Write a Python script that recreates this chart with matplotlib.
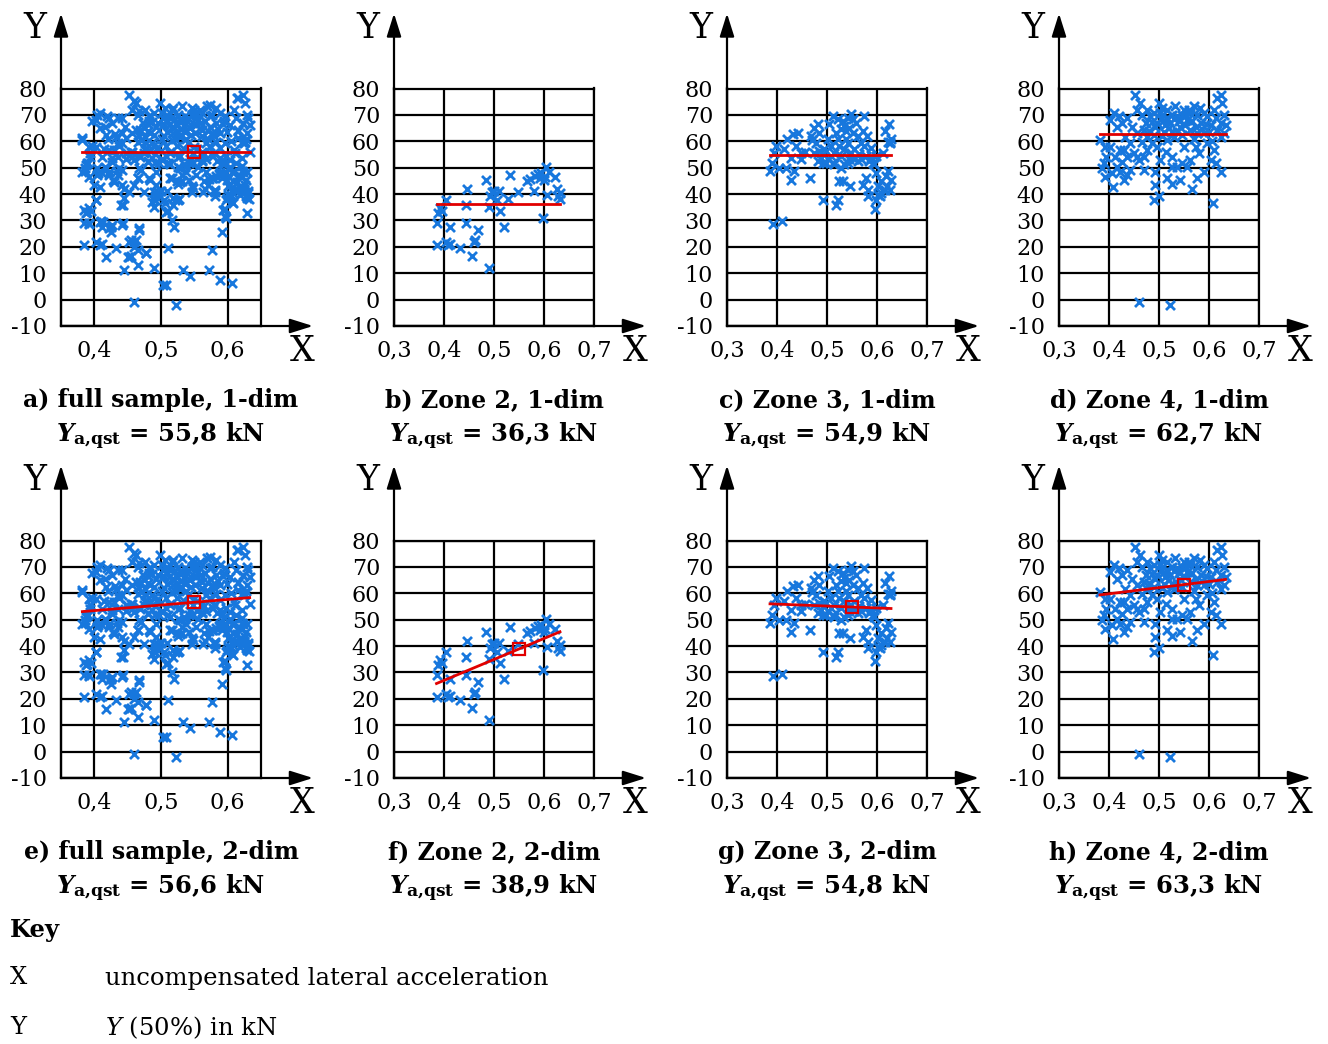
import numpy as np
import matplotlib
matplotlib.use("Agg")
import matplotlib.pyplot as plt

plt.rcParams["font.family"] = "DejaVu Serif"
plt.rcParams["mathtext.fontset"] = "dejavuserif"
plt.rcParams["axes.unicode_minus"] = False

# points: (uncompensated lateral acceleration, Y(50%) in kN)
zone2 = np.array([
    [0.385, 20.7], [0.385, 29.2], [0.388, 32.7], [0.392, 34.6], [0.395, 33.4],
    [0.403, 37.8], [0.403, 22.0], [0.408, 20.7], [0.411, 21.1], [0.411, 27.4],
    [0.432, 19.5], [0.443, 29.2], [0.443, 35.9], [0.445, 42.0], [0.455, 16.6],
    [0.459, 21.7], [0.462, 22.6], [0.467, 26.4], [0.483, 45.4], [0.489, 11.8],
    [0.490, 35.0], [0.491, 39.1], [0.495, 40.6], [0.500, 41.0], [0.505, 37.8],
    [0.509, 41.0], [0.511, 33.4], [0.519, 27.7], [0.527, 38.2], [0.531, 47.3],
    [0.547, 40.6], [0.565, 45.0], [0.572, 45.8], [0.580, 41.3], [0.582, 46.9],
    [0.587, 47.7], [0.591, 46.0], [0.593, 47.9], [0.597, 30.8], [0.599, 45.4],
    [0.602, 46.6], [0.604, 50.4], [0.605, 39.7], [0.609, 48.5], [0.622, 46.6],
    [0.625, 41.8], [0.627, 39.1], [0.631, 40.3], [0.632, 38.2],
])

zone3 = np.array([
    [0.392, 28.8], [0.410, 29.6], [0.386, 48.6], [0.390, 51.8], [0.397, 58.1],
    [0.394, 55.6], [0.404, 49.9], [0.414, 56.9], [0.417, 49.9], [0.420, 60.7],
    [0.431, 62.6], [0.434, 48.6], [0.428, 45.5], [0.441, 63.2], [0.437, 58.1],
    [0.427, 53.7], [0.447, 55.6], [0.466, 45.9], [0.467, 61.9], [0.474, 65.1],
    [0.481, 66.4], [0.484, 63.2], [0.477, 59.4], [0.474, 55.6], [0.487, 53.7],
    [0.491, 37.9], [0.494, 56.9], [0.497, 51.8], [0.501, 60.7], [0.504, 66.4],
    [0.511, 69.5], [0.507, 54.3], [0.514, 51.2], [0.518, 63.2], [0.521, 68.3],
    [0.524, 58.1], [0.521, 37.9], [0.518, 36.0], [0.524, 44.8], [0.531, 44.8],
    [0.528, 49.9], [0.534, 65.7], [0.538, 60.7], [0.541, 68.9], [0.544, 53.1],
    [0.546, 42.9], [0.548, 70.2], [0.551, 63.2], [0.554, 56.9], [0.558, 67.0],
    [0.561, 52.4], [0.568, 59.4], [0.571, 63.8], [0.574, 69.5], [0.571, 43.6],
    [0.578, 46.1], [0.580, 61.9], [0.581, 41.7], [0.584, 52.4], [0.581, 39.1],
    [0.588, 57.5], [0.594, 51.2], [0.598, 48.0], [0.601, 42.9], [0.598, 37.9],
    [0.596, 34.3], [0.605, 39.1], [0.608, 44.8], [0.611, 55.6], [0.615, 63.8],
    [0.618, 46.7], [0.620, 42.9], [0.623, 66.4], [0.625, 59.4], [0.627, 60.7],
    [0.621, 48.6], [0.628, 45.5], [0.625, 41.7], [0.608, 40.4], [0.601, 39.8],
    [0.615, 41.7], [0.484, 56.2], [0.491, 55.0], [0.501, 53.1], [0.507, 58.1],
    [0.514, 55.6], [0.528, 54.3], [0.534, 56.9], [0.541, 59.4], [0.548, 55.6],
    [0.554, 53.1], [0.564, 55.0], [0.568, 53.1], [0.574, 58.1], [0.578, 54.3],
    [0.588, 53.7], [0.591, 51.8], [0.528, 64.5], [0.538, 63.8], [0.544, 65.1],
    [0.551, 68.3], [0.531, 67.6], [0.561, 61.9], [0.521, 60.7], [0.511, 51.8],
    [0.491, 51.8], [0.481, 52.4], [0.534, 51.2], [0.542, 51.8], [0.598, 54.3],
    [0.447, 53.1], [0.622, 59.8], [0.626, 59.6], [0.455, 56.0], [0.470, 60.5],
])

zone4 = np.array([
    [0.459, -0.8], [0.522, -2.0], [0.608, 36.8], [0.489, 37.8], [0.499, 39.3],
    [0.492, 43.5], [0.408, 42.5], [0.526, 43.7], [0.566, 41.8], [0.576, 46.0],
    [0.589, 48.5], [0.623, 48.5], [0.542, 45.4], [0.516, 46.0], [0.492, 48.5],
    [0.470, 49.2], [0.429, 45.4], [0.436, 47.3], [0.442, 49.2], [0.386, 49.8],
    [0.389, 51.7], [0.394, 54.2], [0.382, 60.6], [0.402, 58.0], [0.412, 54.2],
    [0.416, 50.4], [0.426, 52.3], [0.436, 54.2], [0.449, 55.5], [0.469, 54.2],
    [0.476, 56.8], [0.459, 53.0], [0.442, 59.3], [0.432, 61.8], [0.422, 56.8],
    [0.416, 65.6], [0.402, 68.1], [0.409, 70.7], [0.419, 69.4], [0.426, 66.9],
    [0.436, 68.8], [0.446, 65.6], [0.452, 77.6], [0.462, 74.5], [0.456, 71.9],
    [0.466, 70.0], [0.473, 66.9], [0.482, 69.4], [0.492, 65.6], [0.499, 74.5],
    [0.502, 70.7], [0.509, 68.1], [0.516, 71.9], [0.522, 66.9], [0.532, 73.2],
    [0.536, 69.4], [0.542, 65.6], [0.549, 71.9], [0.556, 68.1], [0.562, 64.3],
    [0.569, 73.2], [0.576, 70.0], [0.583, 66.9], [0.589, 63.1], [0.596, 69.4],
    [0.603, 66.2], [0.609, 71.9], [0.616, 76.4], [0.623, 77.6], [0.626, 74.5],
    [0.629, 70.0], [0.633, 66.2], [0.623, 61.8], [0.616, 64.3], [0.609, 56.8],
    [0.603, 53.0], [0.613, 51.7], [0.596, 59.3], [0.573, 58.0], [0.579, 55.5],
    [0.562, 53.0], [0.549, 58.0], [0.546, 51.7], [0.536, 50.4], [0.526, 54.2],
    [0.513, 56.1], [0.502, 53.0], [0.496, 58.0], [0.486, 59.3], [0.516, 60.6],
    [0.529, 61.8], [0.476, 61.8], [0.466, 59.9], [0.456, 63.1], [0.509, 63.7],
    [0.536, 63.7], [0.576, 63.1], [0.589, 70.7], [0.562, 70.7], [0.546, 70.0],
    [0.526, 70.0], [0.489, 70.7], [0.476, 71.9], [0.469, 64.3], [0.496, 66.9],
    [0.519, 65.0], [0.552, 66.2], [0.573, 65.6], [0.599, 63.7], [0.623, 66.9],
    [0.629, 63.1], [0.392, 46.6], [0.406, 47.9], [0.422, 48.5], [0.526, 50.4],
    [0.556, 50.4], [0.456, 54.2], [0.429, 56.8], [0.392, 58.0], [0.506, 72.5],
    [0.486, 67.3], [0.512, 66.0], [0.539, 67.8], [0.566, 67.5], [0.593, 66.5],
    [0.503, 69.0], [0.529, 68.5], [0.559, 72.0], [0.582, 72.5], [0.613, 69.0],
    [0.480, 64.0], [0.505, 62.0], [0.525, 63.5], [0.545, 62.5], [0.570, 61.0],
    [0.585, 64.5], [0.605, 60.0], [0.490, 62.5], [0.515, 68.8], [0.553, 69.8],
])

# remaining full-sample points that belong to none of the zones shown
rest = np.array([
    [0.392, 28.9], [0.413, 29.5], [0.418, 16.2], [0.425, 27.6], [0.425, 25.7],
    [0.444, 11.4], [0.452, 16.2], [0.455, 22.5], [0.460, 20.0], [0.465, 13.0],
    [0.478, 17.5], [0.503, 5.4], [0.508, 5.4], [0.511, 19.4], [0.516, 30.1],
    [0.533, 11.4], [0.544, 8.9], [0.572, 11.4], [0.576, 18.7], [0.588, 7.3],
    [0.592, 25.7], [0.596, 31.6], [0.593, 33.9], [0.606, 6.3], [0.629, 33.0],
    [0.409, 29.5], [0.422, 27.0], [0.427, 28.2], [0.442, 28.2], [0.452, 21.9],
    [0.465, 18.7], [0.467, 27.0], [0.450, 16.2], [0.477, 17.5],
    [0.382, 61.1], [0.382, 48.5], [0.387, 51.0], [0.384, 33.9], [0.389, 33.3],
    [0.402, 37.7], [0.399, 43.4], [0.404, 47.2], [0.397, 67.5], [0.404, 70.0],
    [0.409, 64.9], [0.417, 62.4], [0.422, 68.7], [0.412, 47.9], [0.422, 47.2],
    [0.429, 44.7], [0.437, 49.8], [0.442, 43.4], [0.444, 38.4], [0.440, 35.8],
    [0.452, 40.9], [0.460, 43.4], [0.465, 46.0], [0.467, 49.8], [0.475, 40.9],
    [0.482, 46.0], [0.487, 37.1], [0.490, 40.9], [0.460, 75.1], [0.442, 68.7],
    [0.447, 61.1], [0.435, 59.2], [0.457, 56.1], [0.467, 54.8], [0.480, 52.3],
    [0.490, 58.6], [0.477, 57.3], [0.462, 64.3], [0.482, 67.5], [0.467, 71.3],
    [0.508, 33.3], [0.518, 38.4], [0.526, 37.7], [0.506, 36.5], [0.548, 42.2],
    [0.563, 40.9], [0.581, 40.9], [0.599, 38.4], [0.606, 37.1], [0.619, 39.6],
    [0.629, 38.4], [0.626, 43.4], [0.614, 44.7], [0.629, 48.5], [0.606, 48.5],
    [0.588, 47.2], [0.568, 48.5], [0.553, 47.2], [0.538, 48.5], [0.528, 44.7],
    [0.513, 46.0], [0.614, 76.3], [0.631, 68.7], [0.616, 61.1], [0.621, 53.5],
    [0.573, 73.8], [0.546, 72.5], [0.518, 72.5], [0.558, 65.0], [0.594, 67.5],
    [0.583, 59.9], [0.561, 56.1], [0.528, 62.4], [0.503, 66.2], [0.633, 56.0],
    [0.631, 41.0], [0.620, 42.0], [0.610, 41.5], [0.603, 43.5], [0.622, 50.5],
])

full = np.vstack([zone2, zone3, zone4, rest])

panel_data = [full, zone2, zone3, zone4]
panel_names = ["full sample", "Zone 2", "Zone 3", "Zone 4"]
y_qst_1dim = [55.8, 36.3, 54.9, 62.7]
y_qst_2dim = [56.6, 38.9, 54.8, 63.3]
slope_2dim = [21.1, 79.4, -7.3, 23.3]   # kN per unit X of the 2-dim fit
x_ref = 0.55
letters = ["abcd", "efgh"]

W, H = 1328, 1044
fig = plt.figure(figsize=(W / 100, H / 100), dpi=100)

col_left = [61, 394, 727, 1059]
row_top = [88.5, 540.5]
box_w, box_h = 200, 237.5
blue = "#1777dd"
red = "#e10000"

for r in range(2):
    for c in range(4):
        left, top = col_left[c], row_top[r]
        ax = fig.add_axes([left / W, 1 - (top + box_h) / H, box_w / W, box_h / H])
        pts = panel_data[c]
        if c == 0:
            ax.set_xlim(0.35, 0.65)
            xt = [0.4, 0.5, 0.6]
        else:
            ax.set_xlim(0.3, 0.7)
            xt = [0.3, 0.4, 0.5, 0.6, 0.7]
        ax.set_ylim(-10, 80)
        ax.set_xticks(xt)
        ax.set_xticklabels([f"{v:.1f}".replace(".", ",") for v in xt])
        ax.set_yticks(range(-10, 81, 10))
        ax.tick_params(length=0, labelsize=16)
        ax.tick_params(axis="y", pad=10)
        ax.tick_params(axis="x", pad=10)
        ax.grid(True, color="k", lw=1.6)
        ax.set_axisbelow(True)
        for s in ax.spines.values():
            s.set_linewidth(1.6)

        ax.scatter(pts[:, 0], pts[:, 1], marker="x", s=42, linewidths=2.0,
                   color=blue, zorder=3)

        xs = np.array([pts[:, 0].min(), pts[:, 0].max()])
        if r == 0:
            yq = y_qst_1dim[c]
            ax.plot(xs, [yq, yq], color=red, lw=2, zorder=4)
            show_sq = (c == 0)
        else:
            yq = y_qst_2dim[c]
            ax.plot(xs, yq + slope_2dim[c] * (xs - x_ref), color=red, lw=2, zorder=4)
            show_sq = True
        if show_sq:
            ax.plot(x_ref, yq, marker="s", ms=8, mfc="none", mec=red, mew=1.6, zorder=5)

        # axis arrows
        arrow = dict(arrowstyle="-|>,head_length=0.7,head_width=0.22", color="k",
                     lw=1.6, mutation_scale=20, shrinkA=0, shrinkB=0)
        ax.annotate("", xy=(1.26, 0), xytext=(0, 0), xycoords="axes fraction",
                    arrowprops=arrow, annotation_clip=False)
        ax.annotate("", xy=(0, 1.316), xytext=(0, 0), xycoords="axes fraction",
                    arrowprops=arrow, annotation_clip=False)

        bottom = top + box_h
        fig.text((left - 26) / W, 1 - (top - 60) / H, "Y", fontsize=25,
                 ha="center", va="center")
        fig.text((left + box_w + 41) / W, 1 - (bottom + 25) / H, "X", fontsize=25,
                 ha="center", va="center")

        dim = "1-dim" if r == 0 else "2-dim"
        cx = (left + box_w / 2) / W
        fig.text(cx, 1 - (bottom + 81) / H, f"{letters[r][c]}) {panel_names[c]}, {dim}",
                 fontsize=17, fontweight="bold", ha="center", va="baseline")
        val = f"{yq:.1f}".replace(".", ",")
        fig.text(cx, 1 - (bottom + 116) / H,
                 r"$\mathbfit{Y}_{\mathbf{a{,}qst}}$" + f" = {val} kN",
                 fontsize=17.5, fontweight="bold", ha="center", va="baseline")

fig.text(10 / W, 1 - 930 / H, "Key", fontsize=17.5, fontweight="bold", va="center")
fig.text(10 / W, 1 - 978 / H, "X", fontsize=17.5, va="center")
fig.text(105 / W, 1 - 978 / H, "uncompensated lateral acceleration", fontsize=17.5, va="center")
fig.text(10 / W, 1 - 1028 / H, "Y", fontsize=17.5, va="center")
fig.text(105 / W, 1 - 1028 / H, r"$\mathit{Y}$ (50%) in kN", fontsize=17.5, va="center")

fig.savefig("out.png", dpi=100)
